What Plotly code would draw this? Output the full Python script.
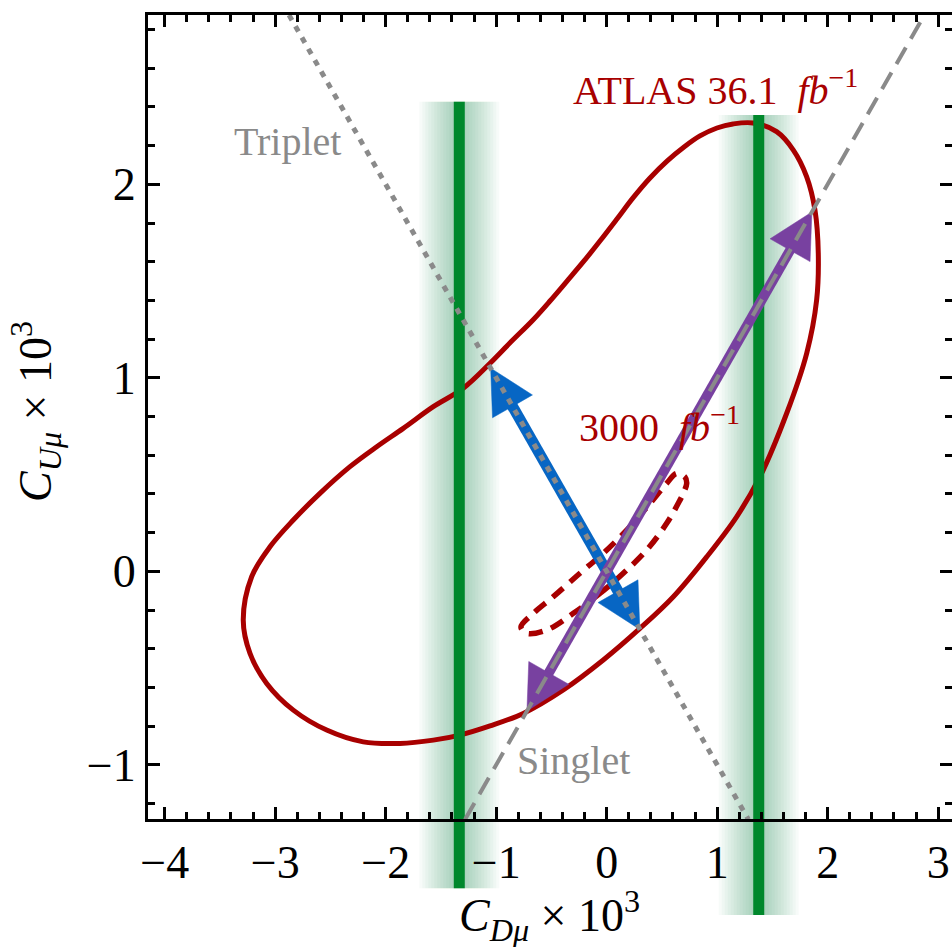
import numpy as np
import plotly.graph_objects as go

# ---------------- data ----------------
# ATLAS 36.1 fb^-1 contour (closed)
atlas_x = [0.905, 1.176, 1.387, 1.629, 1.810, 1.900, 1.915, 1.885, 1.810, 1.689, 1.538,
           1.324, 1.143, 0.998, 0.844, 0.700, 0.546, 0.392, 0.238, 0.093, -0.061,
           -0.205, -0.359, -0.513, -0.667, -0.866, -1.056,
           -1.298, -1.569, -1.841, -2.081, -2.323, -2.595, -2.836, -3.047, -3.213, -3.289,
           -3.228, -3.077, -2.836, -2.534, -2.203, -1.871, -1.569, -1.328, -1.056, -0.755,
           -0.393, -0.031, 0.301, 0.603, 0.905]
atlas_y = [0.075, 0.282, 0.489, 0.817, 1.127, 1.402, 1.643, 1.867, 2.039, 2.177, 2.272,
           2.317, 2.312, 2.291, 2.250, 2.193, 2.120, 2.033, 1.930, 1.821, 1.707,
           1.604, 1.500, 1.397, 1.299, 1.186, 1.075,
           0.946, 0.851, 0.739, 0.644, 0.541, 0.403, 0.265, 0.127, -0.028, -0.252,
           -0.424, -0.579, -0.717, -0.820, -0.881, -0.889, -0.872, -0.846, -0.799, -0.734,
           -0.613, -0.458, -0.295, -0.131, 0.075]

# 3000 fb^-1 projection (closed)
hl_x = [0.150, -0.061, -0.302, -0.543, -0.724, -0.776, -0.664, -0.483, -0.242, -0.031,
        0.181, 0.392, 0.543, 0.633, 0.709, 0.724, 0.693, 0.663, 0.543, 0.362, 0.150]
hl_y = [-0.010, -0.114, -0.217, -0.303, -0.320, -0.288, -0.217, -0.131, -0.010, 0.093,
        0.213, 0.351, 0.455, 0.506, 0.487, 0.455, 0.403, 0.368, 0.248, 0.110, -0.010]

# Singlet (y = x) and Triplet (y = -x) directions
singlet_x = [-1.282, 2.875]
singlet_y = [-1.282, 2.875]
triplet_x = [-2.875, 1.282]
triplet_y = [2.875, -1.282]

# green vertical bands
green_left_x = [-1.334, -1.334]
green_left_y = [2.427, -1.638]
green_right_x = [1.376, 1.376]
green_right_y = [2.358, -1.776]

# double-headed arrows (start, end)
blue_arrow_x = [-1.050, 0.300]
blue_arrow_y = [1.050, -0.300]
purple_arrow_x = [-0.722, 1.857]
purple_arrow_y = [-0.722, 1.857]

# axes
X_RANGE = [-4.151, 3.125]
Y_TOP = 2.875
Y_FRAME_BOTTOM = -1.282
Y_LOW = -1.905

# ---------------- layout geometry ----------------
W, H = 952, 947
ML, MR, MT, MB = 148, 0, 15, 7
PLOT_W = W - ML - MR
PLOT_H = H - MT - MB
SX = PLOT_W / (X_RANGE[1] - X_RANGE[0])
SY = PLOT_H / (Y_TOP - Y_LOW)
P = (Y_FRAME_BOTTOM - Y_LOW) / (Y_TOP - Y_LOW)

RED = "#A80000"
GRAY = "#8a8a8a"
GREEN = "#00882C"
BLUE = "#0766C4"
PURPLE = "#7841A0"
FONT = "Liberation Serif"


def head(tip, tail, L, Wd):
    dx = (tip[0] - tail[0]) * SX
    dy = (tip[1] - tail[1]) * SY
    n = np.hypot(dx, dy)
    ux, uy = dx / n, dy / n
    bx = tip[0] - L * ux / SX
    by = tip[1] - L * uy / SY
    nx, ny = -uy, ux
    c1 = (bx + Wd / 2 * nx / SX, by + Wd / 2 * ny / SY)
    c2 = (bx - Wd / 2 * nx / SX, by - Wd / 2 * ny / SY)
    return [tip[0], c1[0], c2[0], tip[0]], [tip[1], c1[1], c2[1], tip[1]]


def back(tip, tail, dist):
    dx = (tip[0] - tail[0]) * SX
    dy = (tip[1] - tail[1]) * SY
    n = np.hypot(dx, dy)
    return tip[0] - dist * dx / n / SX, tip[1] - dist * dy / n / SY


fig = go.Figure()

# empty traces so that the frame axes exist
for xa, ya in [("x", "y2"), ("x2", "y2"), ("x", "y3")]:
    fig.add_trace(go.Scatter(x=[None], y=[None], xaxis=xa, yaxis=ya, mode="lines",
                             hoverinfo="skip"))

# glow behind green bands
for gx, gy in [(green_left_x, green_left_y), (green_right_x, green_right_y)]:
    for w in range(80, 12, -6):
        fig.add_trace(go.Scatter(x=gx, y=gy, mode="lines",
                                 line=dict(color="rgba(0,140,50,0.03)", width=w),
                                 hoverinfo="skip"))

# ATLAS contour
fig.add_trace(go.Scatter(x=atlas_x, y=atlas_y, mode="lines",
                         line=dict(color=RED, width=5, shape="spline", smoothing=1.0)))
# HL-LHC projection
fig.add_trace(go.Scatter(x=hl_x, y=hl_y, mode="lines",
                         line=dict(color=RED, width=5.5, dash="14px,9px",
                                   shape="spline", smoothing=1.0)))

# green bands
for gx, gy in [(green_left_x, green_left_y), (green_right_x, green_right_y)]:
    fig.add_trace(go.Scatter(x=gx, y=gy, mode="lines",
                             line=dict(color=GREEN, width=11)))

# arrows
HL, HW = 44, 46
for ax_, ay_, col, lw in [(blue_arrow_x, blue_arrow_y, BLUE, 11),
                          (purple_arrow_x, purple_arrow_y, PURPLE, 10)]:
    s = (ax_[0], ay_[0])
    e = (ax_[1], ay_[1])
    s_in = back(s, e, HL * 0.6)
    e_in = back(e, s, HL * 0.6)
    fig.add_trace(go.Scatter(x=[s_in[0], e_in[0]], y=[s_in[1], e_in[1]], mode="lines",
                             line=dict(color=col, width=lw)))
    for tip, tail in [(e, s), (s, e)]:
        hx, hy = head(tip, tail, HL, HW)
        fig.add_trace(go.Scatter(x=hx, y=hy, mode="lines", fill="toself",
                                 fillcolor=col, line=dict(color=col, width=0.5)))

# singlet / triplet lines
fig.add_trace(go.Scatter(x=singlet_x, y=singlet_y, mode="lines",
                         line=dict(color=GRAY, width=4, dash="19px,10px")))
fig.add_trace(go.Scatter(x=triplet_x, y=triplet_y, mode="lines",
                         line=dict(color=GRAY, width=5, dash="6px,7px")))

tickfont = dict(family=FONT, size=46, color="black")
minor = dict(dtick=0.2, ticks="inside", ticklen=7, tickwidth=2.5,
             tickcolor="black", showgrid=False)
common = dict(showgrid=False, zeroline=False, linecolor="black", linewidth=3,
              ticks="inside", ticklen=12, tickwidth=2.5, tickcolor="black",
              dtick=1, tick0=0, minor=minor, tickfont=tickfont, automargin=False)

fig.update_layout(
    template="none",
    width=W, height=H,
    margin=dict(l=ML, r=MR, t=MT, b=MB),
    plot_bgcolor="rgba(0,0,0,0)", paper_bgcolor="white",
    showlegend=False,
    xaxis=dict(domain=[0, 1], range=X_RANGE, anchor="y2", side="bottom",
               showline=True, **common),
    xaxis2=dict(range=X_RANGE, overlaying="x", anchor="y2", side="top",
                showline=True, showticklabels=False, **common),
    yaxis=dict(domain=[0, 1], range=[Y_LOW, Y_TOP], visible=False, anchor="x",
               automargin=False),
    yaxis2=dict(domain=[P, 1], range=[Y_FRAME_BOTTOM, Y_TOP], anchor="x",
                side="left", showline=True, **common),
    yaxis3=dict(range=[Y_FRAME_BOTTOM, Y_TOP], overlaying="y2", anchor="x",
                side="right", showline=False, showticklabels=False, **common),
)

annots = [
    dict(x=0.989, y=2.498, text="ATLAS 36.1  <i>fb</i><sup>−1</sup>", color=RED),
    dict(x=0.482, y=0.761, text="3000  <i>fb</i><sup>−1</sup>", color=RED),
    dict(x=-2.893, y=2.219, text="Triplet", color=GRAY),
    dict(x=-0.296, y=-0.975, text="Singlet", color=GRAY),
]
for a in annots:
    fig.add_annotation(x=a["x"], y=a["y"], xref="x", yref="y", text=a["text"],
                       showarrow=False, xanchor="center", yanchor="middle",
                       font=dict(family=FONT, size=40, color=a["color"]))

fig.add_annotation(x=(549 - ML) / PLOT_W, y=(H - MB - 915) / PLOT_H, xref="paper", yref="paper",
                   text="<i>C</i><sub><i>Dμ</i></sub> × 10<sup>3</sup>", showarrow=False,
                   xanchor="center", yanchor="middle",
                   font=dict(family=FONT, size=46, color="black"))
fig.add_annotation(x=(36 - ML) / PLOT_W, y=(H - MB - 412) / PLOT_H, xref="paper", yref="paper",
                   text="<i>C</i><sub><i>Uμ</i></sub> × 10<sup>3</sup>", showarrow=False,
                   textangle=-90, xanchor="center", yanchor="middle",
                   font=dict(family=FONT, size=46, color="black"))

fig.write_html("out.html")
